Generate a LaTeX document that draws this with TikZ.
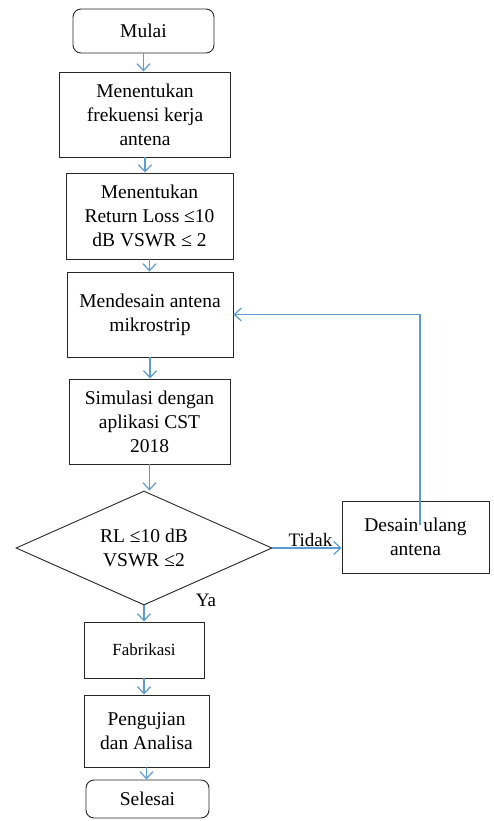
\documentclass[tikz,border=0pt]{standalone}
\usepackage{fontspec}
\setmainfont{Liberation Serif}
\usepackage{tikz}
\usetikzlibrary{shapes.geometric}
\usetikzlibrary{arrows.meta}
\definecolor{flowblue}{RGB}{91,155,213}

\begin{document}
\begin{tikzpicture}[x=1pt, y=-1pt,
        box/.style={rectangle, draw=black!85, line width=0.9pt, align=center, inner sep=2pt,
            font=\fontsize{19.5}{24}\selectfont},
        terminal/.style={box, rounded corners=8pt},
        decision/.style={diamond, draw=black!85, line width=0.9pt, align=center, aspect=2.2,
            inner sep=1pt, minimum width=256pt, minimum height=114pt, font=\fontsize{19.5}{24}\selectfont},
        flow/.style={draw=flowblue, line width=1.2pt, -{Straight Barb[length=7pt, width=13pt]}},
        lbl/.style={font=\fontsize{19}{24}\selectfont, inner sep=1pt}]
        \useasboundingbox (0,0) rectangle (493,821);

        % main column
        \node[terminal, minimum width=141pt, minimum height=44pt] (mulai) at (143.5, 31) {Mulai};
        \node[box, minimum width=171pt, minimum height=85pt] (frek) at (145, 114.5) {Menentukan\\frekuensi kerja\\antena};
        \node[box, minimum width=167pt, minimum height=86pt] (target) at (149.5, 216) {Menentukan\\Return Loss ≤10\\dB VSWR ≤ 2};
        \node[box, minimum width=166pt, minimum height=85pt] (design) at (150, 314.5) {Mendesain antena\\mikrostrip};
        \node[box, minimum width=161pt, minimum height=85pt] (sim) at (149.5, 421.5) {Simulasi dengan\\aplikasi CST\\2018};
        \node[decision] (check) at (144, 548) {RL ≤10 dB\\VSWR ≤2};
        \node[box, minimum width=120pt, minimum height=56pt, font=\fontsize{17}{21}\selectfont] (fab) at (144, 650) {Fabrikasi};
        \node[box, minimum width=125pt, minimum height=72pt] (test) at (146.5, 731) {Pengujian\\dan Analisa};
        \node[terminal, minimum width=123pt, minimum height=38pt] (selesai) at (147.5, 799) {Selesai};

        % redesign branch
        \node[box, minimum width=147pt, minimum height=72pt] (redesign) at (415.5, 537) {Desain ulang\\antena};
        \node[lbl] (ya) at (206, 600) {Ya};
        \coordinate (loopstart) at (420, 525);

        \draw[flow] (mulai) -- (mulai |- frek.north);
        \draw[flow] (frek) -- (frek |- target.north);
        \draw[flow] (target) -- (target |- design.north);
        \draw[flow] (design) -- (design |- sim.north);
        \draw[flow] (sim) -- (sim |- check.north);
        \draw[flow] (check) -- (check |- fab.north);
        \draw[flow] (fab) -- (fab |- test.north);
        \draw[flow] (test) -- (test |- selesai.north);
        \draw[flow] (check) -- (check -| redesign.west) node[lbl, pos=0.55, above] (tidak) {Tidak};
        \draw[flow] (loopstart) |- (design.east);

\end{tikzpicture}
\end{document}
